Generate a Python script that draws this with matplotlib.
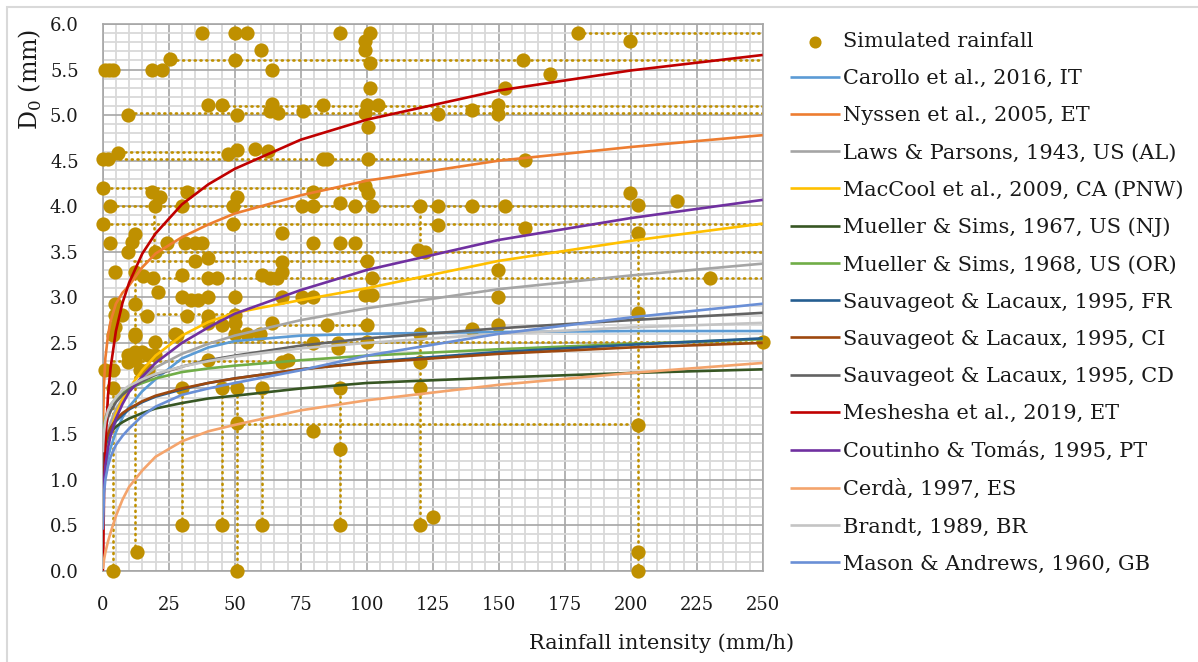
import numpy as np
import matplotlib
matplotlib.use("Agg")
import matplotlib.pyplot as plt
from matplotlib.patches import Rectangle

# ---------------- data ----------------
sim_x = [37.5, 50, 54.5, 59.8, 25.5, 50, 64, 1, 2.5, 4, 18.6, 22.3, 40, 45, 50.7, 9.7, 64, 63.4, 66.5, 76,
         0, 2, 5.9, 47.6, 50.7, 57.7, 62.7, 83.6, 0, 18.6, 21.7, 31.8, 50.7, 79.8, 2.8, 19.8, 29.9, 49.5, 75.4, 79.8,
         0, 49.5, 67.8, 12.2, 11, 9.7, 2.8, 24.2, 31.2, 35, 37.5, 19.8, 35, 40, 67.8, 4.7, 12.3, 15.4, 19.2, 29.9,
         40, 43.2, 60.2, 63.4, 65.9, 67.8, 21, 4.7, 12.2, 29.9, 33.5, 36.2, 40, 50.1, 67.8, 75.4, 79.8, 79.8,
         89.9, 101.3, 99.4, 99.4, 101.3, 159.3, 101.3, 152.4, 83.6, 100, 104.4, 99.4, 100.6, 127.1, 139.8, 149.9,
         149.9, 84.8, 100.6, 160, 99.4, 100.6, 89.9, 95.6, 101.9, 120.2, 127.1, 139.8, 152.4, 127.1, 160, 89.9,
         95.6, 119.5, 122, 100, 101.9, 149.9, 99.4, 101.9, 149.9,
         180.2, 199.7, 169.4, 199.7, 202.9, 217.4, 202.9, 230,
         4.7, 7.2, 16.7, 31.8, 40, 40, 50.1, 50.1, 45.1, 4.7, 64, 50.1, 54.5, 59.6, 79.8, 12.2, 27.4, 19.8,
         9.7, 12.2, 14.8, 17.3, 19.8, 9.7, 12.2, 40, 67.8, 70.3, 0.9, 4, 14.1, 17.3, 4, 29.9, 45.1, 50.7, 60.2,
         50.7, 79.8, 29.9, 45.1, 60.2, 12.9, 4, 50.7, 4, 28, 12.2,
         84.8, 100, 149.9, 139.8, 120.2, 89.2, 89.2, 100, 120.2, 89.9, 120.2, 89.9, 89.9, 120.2, 125.2,
         202.9, 250, 202.9, 202.9, 202.9]
sim_y = [5.9, 5.9, 5.9, 5.72, 5.62, 5.61, 5.5, 5.5, 5.5, 5.5, 5.5, 5.5, 5.11, 5.11, 5.0, 5.0, 5.12, 5.04, 5.02, 5.05,
         4.52, 4.52, 4.58, 4.57, 4.62, 4.63, 4.61, 4.52, 4.2, 4.16, 4.1, 4.16, 4.1, 4.16, 4.0, 4.0, 4.0, 4.0, 4.0, 4.0,
         3.8, 3.8, 3.71, 3.7, 3.61, 3.5, 3.6, 3.6, 3.6, 3.6, 3.6, 3.5, 3.4, 3.43, 3.39, 3.28, 3.28, 3.23, 3.21, 3.25,
         3.21, 3.21, 3.25, 3.21, 3.21, 3.28, 3.06, 2.93, 2.93, 3.0, 2.97, 2.97, 3.0, 3.0, 3.0, 3.0, 3.0, 3.6,
         5.9, 5.9, 5.81, 5.72, 5.57, 5.61, 5.3, 5.3, 5.11, 5.11, 5.11, 5.02, 4.87, 5.01, 5.06, 5.11,
         5.01, 4.52, 4.52, 4.51, 4.22, 4.14, 4.03, 4.0, 4.0, 4.0, 4.0, 4.0, 4.0, 3.79, 3.76, 3.6,
         3.6, 3.52, 3.5, 3.4, 3.21, 3.3, 3.03, 3.03, 3.0,
         5.9, 5.81, 5.45, 4.15, 4.01, 4.06, 3.71, 3.21,
         2.81, 2.81, 2.79, 2.79, 2.79, 2.72, 2.81, 2.72, 2.7, 2.68, 2.72, 2.6, 2.6, 2.6, 2.5, 2.6, 2.6, 2.51,
         2.37, 2.4, 2.4, 2.37, 2.37, 2.29, 2.31, 2.31, 2.29, 2.31, 2.2, 2.2, 2.2, 2.2, 2.0, 2.0, 2.0, 2.0, 2.0,
         1.62, 1.53, 0.5, 0.5, 0.5, 0.21, 0.0, 0.0, 2.59, 2.59, 2.58,
         2.7, 2.7, 2.7, 2.65, 2.6, 2.44, 2.5, 2.51, 2.29, 2.0, 2.0, 1.34, 0.5, 0.5, 0.59,
         2.83, 2.51, 1.6, 0.21, 0.0]

# dotted guide lines (horizontal: y, x from, x to ; vertical: x, y from, y to)
hline_y = [5.90, 5.61, 5.10, 5.02, 4.59, 4.52, 4.20, 4.00, 3.80, 3.50, 3.40, 3.21, 2.82, 2.70, 2.51, 2.30, 1.61]
hline_x0 = [180, 26, 45, 10, 6, 2, 1, 3, 1, 20, 12, 12, 14, 64, 19, 4, 50.7]
hline_x1 = [250, 250, 250, 250, 47, 160, 100, 203, 250, 250, 100, 250, 50, 100, 250, 70, 203]
vline_x = [4, 12.2, 19.5, 29.9, 45.1, 50.7, 60.2, 89.9, 120.2, 120.2, 202.9]
vline_y0 = [0, 0.21, 3.5, 0.5, 0.5, 0, 0.5, 0.5, 0.5, 3.5, 0]
vline_y1 = [2.0, 3.28, 4.2, 2.0, 2.0, 2.0, 2.0, 2.0, 2.6, 4.0, 3.7]

# model curves, values read at these intensities
curve_x = [0.05, 0.2, 0.5, 1, 2, 3, 5, 7.5, 10, 15, 20, 30, 40, 50, 75, 100, 150, 200, 250]
series_names = ["Carollo et al., 2016, IT", "Nyssen et al., 2005, ET", "Laws & Parsons, 1943, US (AL)",
                "MacCool et al., 2009, CA (PNW)", "Mueller & Sims, 1967, US (NJ)", "Mueller & Sims, 1968, US (OR)",
                "Sauvageot & Lacaux, 1995, FR", "Sauvageot & Lacaux, 1995, CI", "Sauvageot & Lacaux, 1995, CD",
                "Meshesha et al., 2019, ET", "Coutinho & Tomás, 1995, PT", "Cerdà, 1997, ES",
                "Brandt, 1989, BR", "Mason & Andrews, 1960, GB"]
carollo = [0.75, 0.85, 0.97, 1.1, 1.25, 1.35, 1.52, 1.68, 1.8, 1.97, 2.1, 2.33, 2.45, 2.52, 2.58, 2.6, 2.62, 2.63, 2.63]
nyssen = [1.4, 1.72, 2.05, 2.33, 2.58, 2.74, 2.93, 3.05, 3.13, 3.33, 3.48, 3.66, 3.8, 3.92, 4.12, 4.28, 4.5, 4.65, 4.78]
laws = [0.95, 1.05, 1.2, 1.36, 1.52, 1.63, 1.77, 1.89, 1.98, 2.12, 2.23, 2.38, 2.49, 2.58, 2.75, 2.88, 3.09, 3.24, 3.37]
maccool = [0.7, 0.85, 1.02, 1.18, 1.4, 1.54, 1.72, 1.88, 2.0, 2.2, 2.36, 2.58, 2.73, 2.83, 2.97, 3.1, 3.4, 3.62, 3.81]
mueller67 = [1.05, 1.2, 1.3, 1.38, 1.47, 1.52, 1.58, 1.63, 1.67, 1.73, 1.78, 1.84, 1.89, 1.92, 2.0, 2.06, 2.12, 2.17, 2.21]
mueller68 = [1.3, 1.48, 1.58, 1.67, 1.76, 1.82, 1.89, 1.95, 2.0, 2.06, 2.11, 2.18, 2.22, 2.25, 2.31, 2.36, 2.43, 2.49, 2.54]
sauv_fr = [0.95, 1.1, 1.22, 1.36, 1.48, 1.54, 1.64, 1.71, 1.77, 1.85, 1.91, 1.99, 2.06, 2.11, 2.21, 2.29, 2.4, 2.48, 2.55]
sauv_ci = [1.05, 1.18, 1.29, 1.4, 1.5, 1.57, 1.66, 1.73, 1.78, 1.86, 1.92, 2.0, 2.06, 2.11, 2.21, 2.28, 2.38, 2.45, 2.5]
sauv_cd = [1.15, 1.3, 1.44, 1.55, 1.68, 1.75, 1.85, 1.93, 1.99, 2.08, 2.15, 2.24, 2.31, 2.36, 2.47, 2.55, 2.66, 2.75, 2.83]
meshesha = [0.0, 0.15, 0.85, 1.38, 1.92, 2.23, 2.63, 2.94, 3.16, 3.48, 3.7, 4.02, 4.24, 4.41, 4.73, 4.95, 5.27, 5.49, 5.66]
coutinho = [0.72, 0.8, 0.98, 1.15, 1.35, 1.48, 1.67, 1.83, 1.96, 2.13, 2.28, 2.5, 2.67, 2.82, 3.08, 3.3, 3.63, 3.87, 4.07]
cerda = [0.02, 0.05, 0.12, 0.2, 0.32, 0.42, 0.6, 0.78, 0.92, 1.1, 1.25, 1.42, 1.53, 1.6, 1.76, 1.87, 2.04, 2.17, 2.28]
brandt = [1.3, 1.4, 1.52, 1.64, 1.76, 1.82, 1.9, 1.98, 2.03, 2.1, 2.16, 2.24, 2.3, 2.35, 2.44, 2.5, 2.6, 2.67, 2.72]
mason = [0.45, 0.55, 0.85, 1.0, 1.15, 1.25, 1.38, 1.48, 1.56, 1.7, 1.8, 1.93, 2.0, 2.06, 2.2, 2.36, 2.6, 2.78, 2.93]

x_ticks = [0, 25, 50, 75, 100, 125, 150, 175, 200, 225, 250]
y_ticks = [0.0, 0.5, 1.0, 1.5, 2.0, 2.5, 3.0, 3.5, 4.0, 4.5, 5.0, 5.5, 6.0]

# ---------------- style ----------------
series_vals = [carollo, nyssen, laws, maccool, mueller67, mueller68, sauv_fr, sauv_ci, sauv_cd,
               meshesha, coutinho, cerda, brandt, mason]
series_colors = ["#5B9BD5", "#ED7D31", "#A5A5A5", "#FFC000", "#375623", "#70AD47", "#255E91",
                 "#9E480E", "#636363", "#C00000", "#7030A0", "#F4A46C", "#C4C4C4", "#6A8FD6"]
gold = "#BF9000"
serif = "DejaVu Serif"
txt_col = "#1A1A1A"

plt.rcParams["xtick.major.pad"] = 18.5
plt.rcParams["ytick.major.pad"] = 17.3
plt.rcParams["xtick.major.size"] = 0
plt.rcParams["ytick.major.size"] = 0
plt.rcParams["xtick.minor.size"] = 0
plt.rcParams["ytick.minor.size"] = 0

W, H = 1198, 662
fig = plt.figure(figsize=(W / 100, H / 100), dpi=100)
ax = fig.add_axes([102.7 / W, 1 - 570.7 / H, (762.7 - 102.7) / W, (570.7 - 24) / H])

# figure border (light gray)
fig.patches.append(Rectangle((7 / W, -0.01), 1.02, 1 - 7 / H + 0.01, transform=fig.transFigure,
                             fill=False, edgecolor="#D9D9D9", lw=1.5, zorder=0))

ax.set_xlim(0, 250)
ax.set_ylim(0, 6)
ax.set_xticks(x_ticks)
ax.set_yticks(y_ticks)
ax.set_xticklabels([str(v) for v in x_ticks], fontsize=13, family=serif, color=txt_col)
ax.set_yticklabels([f"{v:.1f}" for v in y_ticks], fontsize=13, family=serif, color=txt_col)
ax.set_xticks(np.arange(0, 251, 5), minor=True)
ax.set_yticks(np.arange(0, 6.01, 0.1), minor=True)
ax.grid(which="minor", color="#D9D9D9", lw=1.3, zorder=0)
ax.grid(which="major", color="#A6A6A6", lw=1.2, zorder=0.5)
ax.set_axisbelow(True)
for s in ax.spines.values():
    s.set_color("#A6A6A6")
    s.set_linewidth(1.2)

# dotted guides
for y, x0, x1 in zip(hline_y, hline_x0, hline_x1):
    ax.plot([x0, x1], [y, y], color=gold, lw=1.9, linestyle=(0, (0.4, 1.8)),
            dash_capstyle="round", zorder=2)
for x, y0, y1 in zip(vline_x, vline_y0, vline_y1):
    ax.plot([x, x], [y0, y1], color=gold, lw=1.9, linestyle=(0, (0.4, 1.8)),
            dash_capstyle="round", zorder=2)

sc = ax.scatter(sim_x, sim_y, s=105, color=gold, zorder=3, clip_on=False, linewidths=0,
                label="Simulated rainfall")

handles = [sc]
for name, vals, col in zip(series_names, series_vals, series_colors):
    ln, = ax.plot(curve_x, vals, color=col, lw=1.9, zorder=4, label=name, solid_capstyle="butt")
    handles.append(ln)

leg = fig.legend(handles=handles, loc="upper left", bbox_to_anchor=(790 / W, 1 - 32 / H),
                 frameon=False, prop={"family": serif, "size": 15}, handlelength=2.4,
                 handletextpad=0.15, labelspacing=0.87, borderaxespad=0, borderpad=0,
                 markerscale=0.85)
for t in leg.get_texts():
    t.set_color(txt_col)

fig.text(30 / W, 1 - 79 / H, r"D$_\mathregular{0}$ (mm)", rotation=90, ha="center", va="center",
         fontsize=17, family=serif, color=txt_col)
fig.text(662 / W, 1 - 643 / H, "Rainfall intensity (mm/h)", ha="center", va="center",
         fontsize=15, family=serif, color=txt_col)

fig.savefig("out.png", dpi=100)
